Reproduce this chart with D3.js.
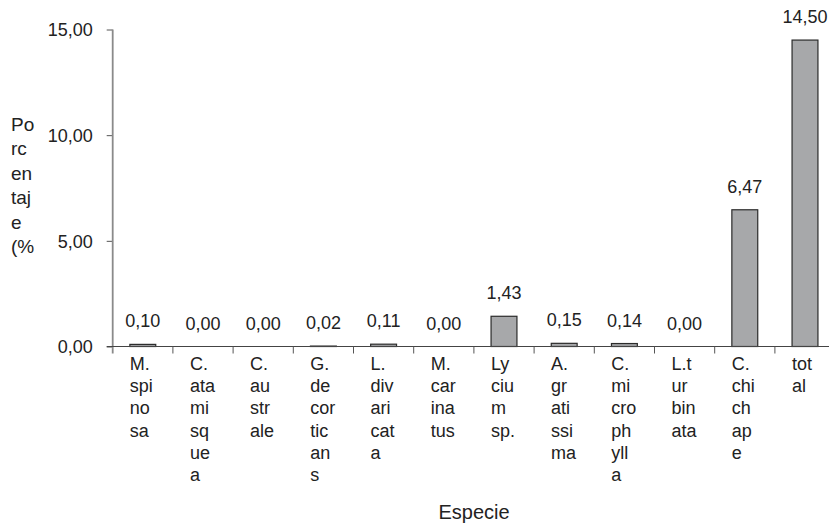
<!DOCTYPE html>
<html>
<head>
<meta charset="utf-8">
<script src="https://cdn.jsdelivr.net/npm/d3@7"></script>
<style>
  body { margin: 0; background: #fff; }
  text { font-family: "Liberation Sans", Arial, sans-serif; fill: #222; }
</style>
</head>
<body>
<div id="chart"></div>
<script>
// Species (categories) and the wrapped label lines as they appear in the chart
const species = ["M. spinosa", "C. atamisquea", "C. australe", "G. decorticans", "L. divaricata",
  "M. carinatus", "Lycium sp.", "A. gratissima", "C. microphylla", "L.turbinata", "C. chichape", "total"];
const speciesLines = [
  ["M.", "spi", "no", "sa"],
  ["C.", "ata", "mi", "sq", "ue", "a"],
  ["C.", "au", "str", "ale"],
  ["G.", "de", "cor", "tic", "an", "s"],
  ["L.", "div", "ari", "cat", "a"],
  ["M.", "car", "ina", "tus"],
  ["Ly", "ciu", "m", "sp."],
  ["A.", "gr", "ati", "ssi", "ma"],
  ["C.", "mi", "cro", "ph", "yll", "a"],
  ["L.t", "ur", "bin", "ata"],
  ["C.", "chi", "ch", "ap", "e"],
  ["tot", "al"]
];
// Percentage per species
const values = [0.10, 0.00, 0.00, 0.02, 0.11, 0.00, 1.43, 0.15, 0.14, 0.00, 6.47, 14.50];
const yTicks = [0, 5, 10, 15];
const yTitleLines = ["Po", "rc", "en", "taj", "e", "(%"];
const xTitle = "Especie";

const width = 829;
const height = 523;

// plot area
const x0 = 112.7, yZero = 346.5, yTop = 29.5, step = 60.2;

const svg = d3.select("#chart")
  .append("svg")
  .attr("width", width)
  .attr("height", height);

const fmt = v => v.toFixed(2).replace(".", ",");

const x = d3.scaleBand()
  .domain(species)
  .range([x0, x0 + step * species.length])
  .padding(0);

const y = d3.scaleLinear()
  .domain([0, 15])
  .range([yZero, yTop]);

// y axis
const yAxis = svg.append("g")
  .attr("transform", `translate(${x0}, 0)`)
  .call(d3.axisLeft(y).tickValues(yTicks).tickSize(6).tickPadding(14).tickFormat(fmt));
yAxis.select(".domain").remove();
yAxis.selectAll(".tick line").attr("stroke", "#555");
yAxis.selectAll(".tick text")
  .style("font-size", "18px")
  .attr("fill", "#222")
  .attr("dy", "0.36em");
svg.append("line")
  .attr("x1", x0).attr("x2", x0)
  .attr("y1", yTop).attr("y2", yZero + 7)
  .attr("stroke", "#8a8a8a")
  .attr("stroke-width", 1.8);

// bars
const barW = x.bandwidth() * 0.43;
svg.selectAll("rect.bar")
  .data(values)
  .enter().append("rect")
    .attr("class", "bar")
    .attr("x", (d, i) => x(species[i]) + (x.bandwidth() - barW) / 2)
    .attr("y", d => y(d))
    .attr("width", barW)
    .attr("height", d => yZero - y(d))
    .attr("fill", "#a7a8aa")
    .attr("stroke", "#2b2b2b")
    .attr("stroke-width", 1.2);

// x axis
const xAxis = svg.append("g")
  .attr("transform", `translate(0, ${yZero})`)
  .call(d3.axisBottom(x).tickSize(0).tickFormat(""));
xAxis.select(".domain")
  .attr("d", `M${x0 - 6},0H${width}`)
  .attr("stroke", "#444")
  .attr("stroke-width", 1.2);
xAxis.selectAll(".tick").remove();
xAxis.selectAll("line.sep")
  .data(species)
  .enter().append("line")
    .attr("class", "sep")
    .attr("x1", d => x(d) + x.bandwidth())
    .attr("x2", d => x(d) + x.bandwidth())
    .attr("y1", 0).attr("y2", 7)
    .attr("stroke", "#555");

// value labels
svg.selectAll("text.val")
  .data(values)
  .enter().append("text")
    .attr("class", "val")
    .attr("x", (d, i) => x(species[i]) + x.bandwidth() / 2)
    .attr("y", d => y(d) - 17)
    .attr("text-anchor", "middle")
    .style("font-size", "18px")
    .text(fmt);

// category labels, wrapped
const catLabels = svg.selectAll("text.cat")
  .data(speciesLines)
  .enter().append("text")
    .attr("class", "cat")
    .attr("x", (d, i) => x(species[i]) + 17)
    .attr("y", 370)
    .style("font-size", "18px");
catLabels.selectAll("tspan")
  .data(d => d)
  .enter().append("tspan")
    .attr("x", function () { return this.parentNode.getAttribute("x"); })
    .attr("dy", (d, i) => i === 0 ? 0 : 22.2)
    .text(d => d);

// y title
const yTitle = svg.append("text")
  .attr("x", 11)
  .attr("y", 131)
  .style("font-size", "19px");
yTitle.selectAll("tspan")
  .data(yTitleLines)
  .enter().append("tspan")
    .attr("x", 11)
    .attr("dy", (d, i) => i === 0 ? 0 : 24.4)
    .text(d => d);

// x title
svg.append("text")
  .attr("x", 474)
  .attr("y", 519)
  .attr("text-anchor", "middle")
  .style("font-size", "20px")
  .text(xTitle);
</script>
</body>
</html>
